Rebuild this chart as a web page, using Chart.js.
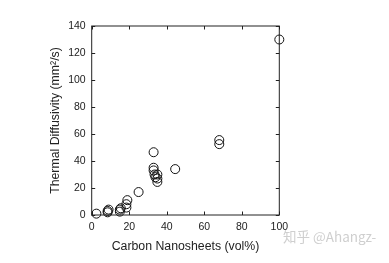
<!DOCTYPE html>
<html>
<head>
<meta charset="utf-8">
<script src="https://cdn.jsdelivr.net/npm/chart.js@4"></script>
<style>
  html, body { margin: 0; padding: 0; background: #fff; }
  #wrap { width: 389px; height: 263px; position: relative; }
</style>
</head>
<body>
<div id="wrap"><canvas id="myChart"></canvas></div>
<script>
const volFraction = [2.5, 8.5, 8.5, 9, 15, 15, 15.5, 18.5, 18.5, 19, 25, 33, 33, 33, 33.5, 34, 35, 35, 35, 44.5, 68, 68, 100];
const diffusivity = [1, 2, 3, 4, 2.5, 4, 5, 5.5, 8, 11, 17, 46.5, 35, 33, 30, 28, 30, 27, 24.5, 34, 55.5, 52.5, 130];
const xTicks = [0, 20, 40, 60, 80, 100];
const yTicks = [0, 20, 40, 60, 80, 100, 120, 140];

const points = volFraction.map((v, i) => ({ x: v, y: diffusivity[i] }));

Chart.defaults.font.family = "'Liberation Sans', Arial, sans-serif";
Chart.defaults.color = '#222';

// ticks pointing inward on all four sides of the box
const innerTicks = {
  id: 'innerTicks',
  afterDatasetsDraw(chart) {
    const { ctx, chartArea: a, scales } = chart;
    const len = 3.5;
    ctx.save();
    ctx.strokeStyle = '#222';
    ctx.lineWidth = 1;
    ctx.beginPath();
    xTicks.forEach(t => {
      const px = Math.round(scales.x.getPixelForValue(t)) + 0.5;
      ctx.moveTo(px, a.bottom); ctx.lineTo(px, a.bottom - len);
      ctx.moveTo(px, a.top); ctx.lineTo(px, a.top + len);
    });
    yTicks.forEach(t => {
      const py = Math.round(scales.y.getPixelForValue(t)) + 0.5;
      ctx.moveTo(a.left, py); ctx.lineTo(a.left + len, py);
      ctx.moveTo(a.right, py); ctx.lineTo(a.right - len, py);
    });
    ctx.stroke();
    ctx.strokeRect(a.left, a.top, a.right - a.left, a.bottom - a.top);
    ctx.restore();
  }
};

const watermark = {
  id: 'watermark',
  afterDraw(chart) {
    const ctx = chart.ctx;
    ctx.save();
    ctx.font = "13.5px 'Noto Sans CJK SC', sans-serif";
    ctx.fillStyle = '#cfcfcf';
    ctx.textBaseline = 'middle';
    ctx.fillText('知乎 @Ahangz-', 283, 237);
    ctx.restore();
  }
};

const ctx = document.getElementById('myChart');

new Chart(ctx, {
  type: 'scatter',
  data: {
    datasets: [{
      label: 'Thermal Diffusivity',
      data: points,
      pointStyle: 'circle',
      pointRadius: 4.5,
      pointHoverRadius: 4.5,
      borderColor: '#111',
      backgroundColor: 'rgba(0,0,0,0)',
      pointBorderWidth: 1,
      clip: false
    }]
  },
  options: {
    responsive: true,
    maintainAspectRatio: false,
    animation: false,
    events: [],
    layout: {
      padding: { left: 40, top: 26, right: 109.7, bottom: 6 }
    },
    scales: {
      x: {
        type: 'linear',
        min: 0, max: 100,
        afterFit(s) { s.height = 42; },
        afterBuildTicks(s) { s.ticks = xTicks.map(v => ({ value: v })); },
        grid: { display: false, drawTicks: false },
        border: { display: false },
        ticks: { padding: 6, font: { size: 10.5 }, color: '#222', maxRotation: 0 },
        title: {
          display: true,
          text: 'Carbon Nanosheets (vol%)',
          font: { size: 12.3 },
          color: '#222',
          padding: { top: 0, bottom: 3 }
        }
      },
      y: {
        type: 'linear',
        min: 0, max: 140,
        afterFit(s) { s.width = 51.7; },
        afterBuildTicks(s) { s.ticks = yTicks.map(v => ({ value: v })); },
        grid: { display: false, drawTicks: false },
        border: { display: false },
        ticks: { padding: 6, font: { size: 10.5 }, color: '#222' },
        title: {
          display: true,
          text: 'Thermal Diffusivity (mm²/s)',
          font: { size: 12.3 },
          color: '#222',
          padding: { top: 8, bottom: 0 }
        }
      }
    },
    plugins: {
      legend: { display: false },
      tooltip: { enabled: false }
    }
  },
  plugins: [innerTicks, watermark]
});
</script>
</body>
</html>
